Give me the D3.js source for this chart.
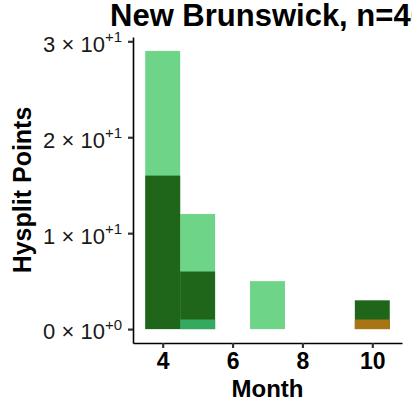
<!DOCTYPE html>
<html>
<head>
<meta charset="utf-8">
<script src="https://cdn.jsdelivr.net/npm/d3@7"></script>
<style>
  body { margin: 0; background: #fff; }
  svg { display: block; font-family: "Liberation Sans", Arial, sans-serif; }
</style>
</head>
<body>
<div id="chart"></div>
<script>
// histogram counts per month, one array pair per colour group
var monthsLight = [4, 5, 7];
var countsLight = [29, 12, 5];
var monthsDark = [4, 5, 10];
var countsDark = [16, 6, 3];
var monthsMid = [5];
var countsMid = [1];
var monthsOrange = [10];
var countsOrange = [1];

var xTicks = [4, 6, 8, 10];
var yTicks = [0, 10, 20, 30];
var title = "New Brunswick, n=46";

var W = 412, H = 408;
var margin = {top: 37, right: 10, bottom: 65, left: 133};

var svg = d3.select("#chart").append("svg")
    .attr("width", W)
    .attr("height", H);

// ggplot style expanded domains
var x = d3.scaleLinear().domain([3.15, 10.85]).range([margin.left, W - margin.right]);
var y = d3.scaleLinear().domain([-1.45, 30.45]).range([H - margin.bottom, margin.top]);

var groups = [
    {color: "#6dd488", months: monthsLight, counts: countsLight},
    {color: "#1f661b", months: monthsDark, counts: countsDark},
    {color: "#35a95f", months: monthsMid, counts: countsMid},
    {color: "#a97412", months: monthsOrange, counts: countsOrange}
];

groups.forEach(function(g) {
    var rows = g.months.map(function(m, i) { return {month: m, count: g.counts[i]}; });
    svg.append("g").selectAll("rect")
        .data(rows)
        .enter().append("rect")
        .attr("x", function(d) { return x(d.month - 0.5); })
        .attr("width", function(d) { return x(d.month + 0.5) - x(d.month - 0.5); })
        .attr("y", function(d) { return y(d.count); })
        .attr("height", function(d) { return y(0) - y(d.count); })
        .attr("fill", g.color);
});

// Y axis
var yAxis = svg.append("g")
    .attr("transform", "translate(" + margin.left + ",0)")
    .call(d3.axisLeft(y).tickValues(yTicks).tickSize(5).tickSizeOuter(0).tickPadding(6));
yAxis.select(".domain").attr("stroke", "#000").attr("stroke-width", 1.6);
yAxis.selectAll(".tick line").attr("stroke", "#333").attr("stroke-width", 2.2);
yAxis.selectAll(".tick text").each(function(d) {
    var t = d3.select(this).text("");
    var mant = d === 0 ? 0 : d / 10;
    var exp = d === 0 ? "+0" : "+1";
    t.attr("font-size", 22).attr("fill", "#1a1a1a").attr("dy", "0.45em");
    t.append("tspan").text(mant + " \u00d7 10");
    t.append("tspan").attr("dy", "-0.65em").attr("font-size", 15).text(exp);
});

// X axis
var xAxis = svg.append("g")
    .attr("transform", "translate(0," + (H - margin.bottom) + ")")
    .call(d3.axisBottom(x).tickValues(xTicks).tickSize(5).tickSizeOuter(0).tickPadding(5));
xAxis.select(".domain").attr("stroke", "#000").attr("stroke-width", 1.6);
xAxis.selectAll(".tick line").attr("stroke", "#333").attr("stroke-width", 2.2);
xAxis.selectAll(".tick text")
    .attr("font-size", 23)
    .attr("font-weight", "bold")
    .attr("fill", "#000");

// Axis titles
svg.append("text")
    .attr("x", (margin.left + W - margin.right) / 2)
    .attr("y", 397)
    .attr("text-anchor", "middle")
    .attr("font-size", 24)
    .attr("font-weight", "bold")
    .text("Month");

svg.append("text")
    .attr("transform", "translate(31," + ((margin.top + H - margin.bottom) / 2) + ") rotate(-90)")
    .attr("text-anchor", "middle")
    .attr("font-size", 25)
    .attr("font-weight", "bold")
    .text("Hysplit Points");

// Title (runs past the right edge as in the original)
svg.append("text")
    .attr("x", 110)
    .attr("y", 26)
    .attr("font-size", 31)
    .attr("font-weight", "bold")
    .text(title);
</script>
</body>
</html>
